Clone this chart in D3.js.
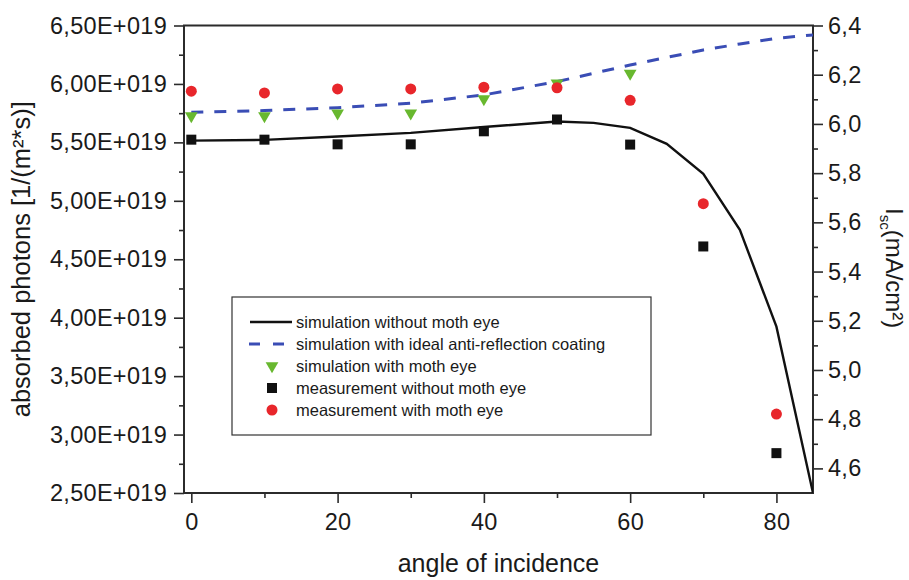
<!DOCTYPE html>
<html>
<head>
<meta charset="utf-8">
<script src="https://cdn.jsdelivr.net/npm/d3@7"></script>
<style>
    body { margin: 0; background: #fff; }
    svg { display: block; font-family: "Liberation Sans", Arial, sans-serif; }
</style>
</head>
<body>
<svg id="chart"></svg>
<script>
// angle of incidence for the measurements / moth eye simulation
const angles = [0, 10, 20, 30, 40, 50, 60, 70, 80];

// simulation without moth eye (absorbed photons, E+019)
const simNoMothAngles = [0, 10, 20, 30, 40, 50, 55, 60, 65, 70, 75, 80, 85];
const simNoMoth = [5.515, 5.521, 5.550, 5.581, 5.632, 5.678, 5.667, 5.624, 5.487, 5.231, 4.752, 3.923, 2.50];

// simulation with ideal anti-reflection coating (absorbed photons, E+019)
const simIdealAngles = [0, 10, 20, 30, 40, 50, 60, 70, 75, 80, 85];
const simIdeal = [5.758, 5.772, 5.797, 5.835, 5.906, 6.020, 6.162, 6.291, 6.342, 6.391, 6.419];

// simulation with moth eye (absorbed photons, E+019), 0..60 deg
const simMoth = [5.726, 5.726, 5.750, 5.750, 5.872, 6.006, 6.091];

// measurements, Isc in mA/cm2
const measNoMoth = [5.936, 5.936, 5.917, 5.917, 5.970, 6.018, 5.916, 5.502, 4.662];
const measMoth = [6.133, 6.126, 6.142, 6.142, 6.149, 6.147, 6.096, 5.676, 4.821];

// ticks
const xTicks = [0, 20, 40, 60, 80];
const xMinor = [10, 30, 50, 70];
const leftTicks = [2.5, 3.0, 3.5, 4.0, 4.5, 5.0, 5.5, 6.0, 6.5];
const leftMinor = [2.75, 3.25, 3.75, 4.25, 4.75, 5.25, 5.75, 6.25];
const rightTicks = [4.6, 4.8, 5.0, 5.2, 5.4, 5.6, 5.8, 6.0, 6.2, 6.4];
const rightMinor = [4.7, 4.9, 5.1, 5.3, 5.5, 5.7, 5.9, 6.1, 6.3];

const legendLabels = [
    'simulation without moth eye',
    'simulation with ideal anti-reflection coating',
    'simulation with moth eye',
    'measurement without moth eye',
    'measurement with moth eye'
];

const width = 909, height = 580;
const plotLeft = 184, plotRight = 813, plotTop = 25.5, plotBottom = 493;

const svg = d3.select('#chart').attr('width', width).attr('height', height);

const x = d3.scaleLinear().domain([-1, 85]).range([plotLeft, plotRight]);
const yL = d3.scaleLinear().domain([2.5, 6.5]).range([plotBottom, plotTop]);
const yR = d3.scaleLinear().domain([4.5, 6.4]).range([plotBottom, plotTop]);

const axisColor = '#2b2b2b';
const fmtLeft = d => d.toFixed(2).replace('.', ',') + 'E+019';
const fmtRight = d => d.toFixed(1).replace('.', ',');

function styleAxis(g) {
    g.select('.domain').remove();
    g.selectAll('line').attr('stroke', axisColor).attr('stroke-width', 1.6);
    g.selectAll('text').attr('fill', '#1a1a1a').style('font-size', '23.5px').style('letter-spacing', '0.3px');
}

// x axis
svg.append('g').attr('transform', `translate(0,${plotBottom})`)
    .call(d3.axisBottom(x).tickValues(xTicks).tickSize(10).tickPadding(10).tickFormat(d3.format('d')))
    .call(styleAxis);
svg.append('g').attr('transform', `translate(0,${plotBottom})`)
    .call(d3.axisBottom(x).tickValues(xMinor).tickSize(5).tickFormat(''))
    .call(styleAxis);

// left axis
svg.append('g').attr('transform', `translate(${plotLeft},0)`)
    .call(d3.axisLeft(yL).tickValues(leftTicks).tickSize(10).tickPadding(7).tickFormat(fmtLeft))
    .call(styleAxis);
svg.append('g').attr('transform', `translate(${plotLeft},0)`)
    .call(d3.axisLeft(yL).tickValues(leftMinor).tickSize(5).tickFormat(''))
    .call(styleAxis);

// right axis
svg.append('g').attr('transform', `translate(${plotRight},0)`)
    .call(d3.axisRight(yR).tickValues(rightTicks).tickSize(10).tickPadding(5).tickFormat(fmtRight))
    .call(styleAxis);
svg.append('g').attr('transform', `translate(${plotRight},0)`)
    .call(d3.axisRight(yR).tickValues(rightMinor).tickSize(5).tickFormat(''))
    .call(styleAxis);

// frame
svg.append('rect')
    .attr('x', plotLeft).attr('y', plotTop)
    .attr('width', plotRight - plotLeft).attr('height', plotBottom - plotTop)
    .attr('fill', 'none').attr('stroke', axisColor).attr('stroke-width', 2);

// clip for the curves
svg.append('clipPath').attr('id', 'plotClip')
    .append('rect').attr('x', plotLeft).attr('y', plotTop)
    .attr('width', plotRight - plotLeft).attr('height', plotBottom - plotTop);

const plot = svg.append('g').attr('clip-path', 'url(#plotClip)');

const lineL = d3.line().x(d => x(d[0])).y(d => yL(d[1]));

const green = '#68b82f', red = '#e8262b', blue = '#3a4db5';

plot.append('path')
    .datum(simNoMothAngles.map((a, i) => [a, simNoMoth[i]]))
    .attr('d', lineL)
    .attr('fill', 'none').attr('stroke', '#111').attr('stroke-width', 2.4);

plot.append('path')
    .datum(simIdealAngles.map((a, i) => [a, simIdeal[i]]))
    .attr('d', lineL)
    .attr('fill', 'none').attr('stroke', blue).attr('stroke-width', 3)
    .attr('stroke-dasharray', '12,11');

const triangle = d3.symbol().type(d3.symbolTriangle).size(70);

plot.selectAll('.tri')
    .data(simMoth)
    .enter().append('path')
    .attr('class', 'tri')
    .attr('d', triangle)
    .attr('transform', (d, i) => `translate(${x(angles[i])},${yL(d)}) rotate(180)`)
    .attr('fill', green);

plot.selectAll('.sq')
    .data(measNoMoth)
    .enter().append('rect')
    .attr('class', 'sq')
    .attr('x', (d, i) => x(angles[i]) - 5)
    .attr('y', d => yR(d) - 5)
    .attr('width', 10).attr('height', 10)
    .attr('fill', '#111');

plot.selectAll('.dot')
    .data(measMoth)
    .enter().append('circle')
    .attr('class', 'dot')
    .attr('cx', (d, i) => x(angles[i]))
    .attr('cy', d => yR(d))
    .attr('r', 5.5)
    .attr('fill', red);

// axis titles
svg.append('text')
    .attr('transform', `translate(30,${(plotTop + plotBottom) / 2}) rotate(-90)`)
    .attr('text-anchor', 'middle')
    .style('font-size', '25.5px').attr('fill', '#1a1a1a')
    .text('absorbed photons [1/(m²*s)]');

svg.append('text')
    .attr('x', (plotLeft + plotRight) / 2).attr('y', 572)
    .attr('text-anchor', 'middle')
    .style('font-size', '25px').attr('fill', '#1a1a1a')
    .text('angle of incidence');

const rt = svg.append('text')
    .attr('transform', `translate(886,208) rotate(90)`)
    .style('font-size', '24px').attr('fill', '#1a1a1a');
rt.append('tspan').text('I');
rt.append('tspan').attr('dy', 6).style('font-size', '15px').text('sc');
rt.append('tspan').attr('dy', -6).text('(mA/cm²)');

// legend
const legend = svg.append('g');
legend.append('rect')
    .attr('x', 232).attr('y', 297).attr('width', 419).attr('height', 138)
    .attr('fill', '#fff').attr('stroke', '#333').attr('stroke-width', 1.2);

const rowY = i => 322 + i * 22;
legend.append('line')
    .attr('x1', 250).attr('x2', 292).attr('y1', rowY(0)).attr('y2', rowY(0))
    .attr('stroke', '#111').attr('stroke-width', 2.4);
legend.append('line')
    .attr('x1', 249).attr('x2', 284).attr('y1', rowY(1)).attr('y2', rowY(1))
    .attr('stroke', blue).attr('stroke-width', 3).attr('stroke-dasharray', '11,13');
legend.append('path')
    .attr('d', triangle)
    .attr('transform', `translate(272,${rowY(2)}) rotate(180)`)
    .attr('fill', green);
legend.append('rect')
    .attr('x', 267).attr('y', rowY(3) - 5).attr('width', 10).attr('height', 10)
    .attr('fill', '#111');
legend.append('circle')
    .attr('cx', 272).attr('cy', rowY(4)).attr('r', 5.5).attr('fill', red);

legend.selectAll('.lt')
    .data(legendLabels)
    .enter().append('text')
    .attr('class', 'lt')
    .attr('x', 296)
    .attr('y', (d, i) => rowY(i))
    .attr('dy', '0.35em')
    .style('font-size', '16.5px').attr('fill', '#1a1a1a')
    .text(d => d);
</script>
</body>
</html>
